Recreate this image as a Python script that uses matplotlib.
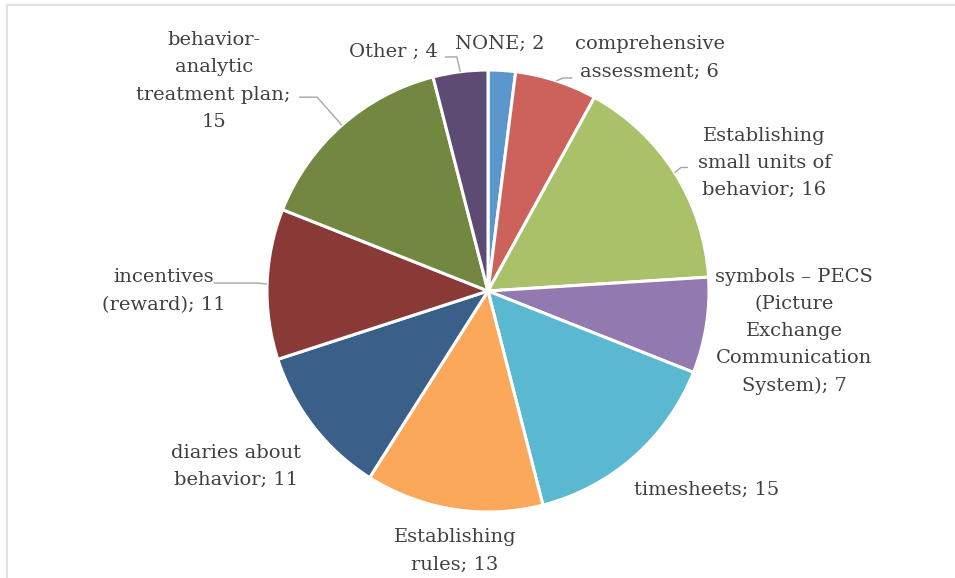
import matplotlib
matplotlib.use("Agg")
import matplotlib.pyplot as plt
from matplotlib.lines import Line2D
import numpy as np

categories = [
    "NONE",
    "comprehensive\nassessment",
    "Establishing\nsmall units of\nbehavior",
    "symbols \u2013 PECS\n(Picture\nExchange\nCommunication\nSystem)",
    "timesheets",
    "Establishing\nrules",
    "diaries about\nbehavior",
    "incentives\n(reward)",
    "behavior-\nanalytic\ntreatment plan;\n",
    "Other ",
]
values = [2, 6, 16, 7, 15, 13, 11, 11, 15, 4]

colors = ["#5b96cc", "#cd625c", "#a9c26a", "#9279b0", "#5ab8d0",
          "#fba85a", "#3a5f88", "#8a3a36", "#72873f", "#5e4b73"]

# label layout (in units of the pie radius, relative to centre)
label_pos = [(0.055, 1.118), (0.732, 1.055), (1.250, 0.580), (1.386, -0.182),
             (0.990, -0.900), (-0.150, -1.177), (-1.140, -0.795),
             (-1.468, 0.000), (-1.241, 0.950), (-0.430, 1.083)]
# leader line bends / ends (None = no leader)
leaders = [None,
           [(0.341, 0.964), (0.382, 0.964)],
           [(0.873, 0.559), (0.905, 0.559)],
           None, None, None, None,
           [(-1.045, 0.036), (-1.241, 0.036)],
           [(-0.773, 0.877), (-0.855, 0.877)],
           [(-0.141, 1.059), (-0.195, 1.059)]]

W, H = 955, 578
cx, cy, R = 488, 291, 221

fig = plt.figure(figsize=(W / 100, H / 100), dpi=100)
ax = fig.add_axes([0, 0, 1, 1])
wedges, _ = ax.pie(values, colors=colors, startangle=90, counterclock=False,
                   radius=1.0, wedgeprops=dict(edgecolor="white", linewidth=2.2))
ax.set_aspect("auto")
ax.set_xlim(-cx / R, (W - cx) / R)
ax.set_ylim((cy - H) / R, cy / R)
ax.axis("off")

total = sum(values)
cum = 0
for i, (cat, v) in enumerate(zip(categories, values)):
    mid = 90 - (cum + v / 2) / total * 360
    cum += v
    if cat.endswith(";\n"):
        txt = cat + f"{v}"
    else:
        txt = cat + f"; {v}"
    x, y = label_pos[i]
    ax.text(x, y, txt, ha="center", va="center", multialignment="center",
            fontsize=14, family="DejaVu Serif", color="#404040",
            linespacing=1.66)
    if leaders[i] is not None:
        a = np.deg2rad(mid)
        xs = [np.cos(a)] + [p[0] for p in leaders[i]]
        ys = [np.sin(a)] + [p[1] for p in leaders[i]]
        ax.plot(xs, ys, color="#a6a6a6", lw=1.0, solid_capstyle="butt")

# outer chart border (top and left visible)
fig.add_artist(Line2D([6.5 / W, 1], [1 - 4.5 / H, 1 - 4.5 / H],
                      transform=fig.transFigure, color="#e0e0e0", lw=1.5))
fig.add_artist(Line2D([6.5 / W, 6.5 / W], [0, 1 - 4.5 / H],
                      transform=fig.transFigure, color="#e0e0e0", lw=1.5))

fig.savefig("out.png", dpi=100)
